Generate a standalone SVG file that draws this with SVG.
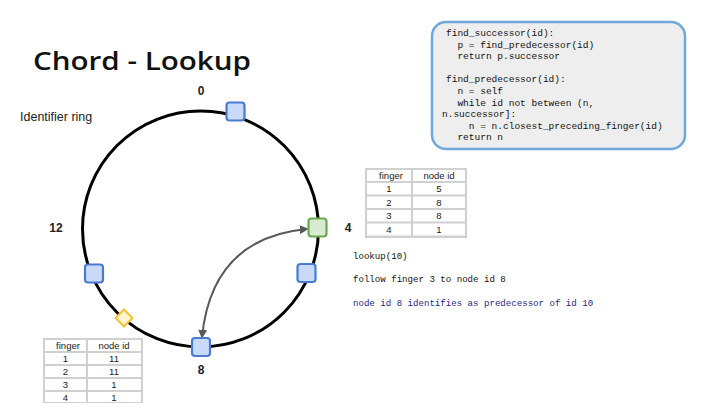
<svg xmlns="http://www.w3.org/2000/svg" width="720" height="405" viewBox="0 0 720 405">
<style>
.num{font-family:"Liberation Sans",Arial,sans-serif;font-size:12px;font-weight:bold;fill:#222;text-anchor:middle}
.code{font-family:"Liberation Mono","DejaVu Sans Mono",monospace;font-size:9.5px;fill:#111;white-space:pre}
.msg{font-family:"Liberation Mono","DejaVu Sans Mono",monospace;font-size:9.1px;fill:#111}
.tb{font-family:"Liberation Sans",Arial,sans-serif;font-size:9.5px;fill:#222;text-anchor:middle}
.cell{fill:#ffffff}
.tbg{fill:#d0d0d0}
.bn{fill:#c9daf8;stroke:#4a7bd0;stroke-width:2.2}
.gn{fill:#d9ead3;stroke:#6aa84f;stroke-width:2.2}
.yn{fill:#fff2cc;stroke:#f1c232;stroke-width:2}
</style>
<defs>
<marker id="ah" viewBox="0 0 10 10" refX="8" refY="5" markerWidth="4.5" markerHeight="4.5" orient="auto-start-reverse" markerUnits="strokeWidth">
<path d="M0,0 L10,5 L0,10 z" fill="#595959"/>
</marker>
<clipPath id="c1"><rect x="367" y="170" width="44" height="11"/></clipPath>
<clipPath id="c2"><rect x="45" y="340" width="41" height="11"/></clipPath>
</defs>
<rect width="720" height="405" fill="#ffffff"/>

<text x="33" y="70" font-family="'Open Sans','Liberation Sans',sans-serif" font-size="26" font-weight="600" fill="#111" textLength="218" lengthAdjust="spacingAndGlyphs">Chord - Lookup</text>
<text x="20" y="121" font-family="'Liberation Sans',Arial,sans-serif" font-size="12.5" fill="#222">Identifier ring</text>

<g id="ring">
<circle cx="200.5" cy="229" r="118" fill="none" stroke="#000" stroke-width="3"/>
</g>

<g id="labels">
<text class="num" x="201" y="95">0</text>
<text class="num" x="348" y="232">4</text>
<text class="num" x="201" y="374">8</text>
<text class="num" x="56" y="232">12</text>
</g>

<g id="connectors">
<path d="M202,337 Q212,238 307,229" fill="none" stroke="#595959" stroke-width="2" marker-start="url(#ah)" marker-end="url(#ah)"/>
</g>

<g id="node0"><rect class="bn" x="226.5" y="102.5" width="18" height="18" rx="3"/></g>
<g id="node4"><rect class="gn" x="308.5" y="218.5" width="18" height="18" rx="3"/></g>
<g id="node5"><rect class="bn" x="297.5" y="264" width="18" height="18" rx="3"/></g>
<g id="node8"><rect class="bn" x="192" y="338" width="18" height="18" rx="3"/></g>
<g id="node11"><rect class="bn" x="85" y="264.5" width="18" height="18" rx="3"/></g>
<g id="node10"><rect class="yn" x="118" y="312" width="12" height="12" transform="rotate(45 124 318)"/></g>

<g id="codebox">
<rect x="432" y="22" width="253" height="127" rx="14" fill="#eeeeee" stroke="#6fa8dc" stroke-width="2.5"/>
<text class="code" x="446" y="36">find_successor(id):</text>
<text class="code" x="446" y="47.6">  p = find_predecessor(id)</text>
<text class="code" x="446" y="59.2">  return p.successor</text>
<text class="code" x="446" y="82.4">find_predecessor(id):</text>
<text class="code" x="446" y="94">  n = self</text>
<text class="code" x="446" y="105.6">  while id not between (n,</text>
<text class="code" x="442" y="117.2">n.successor]:</text>
<text class="code" x="446" y="128.8">    n = n.closest_preceding_finger(id)</text>
<text class="code" x="446" y="140.4">  return n</text>
</g>

<g id="table4">
<rect class="tbg" x="365" y="168" width="102" height="70"/>
<rect class="cell" x="367" y="170" width="44" height="11"/><rect class="cell" x="413" y="170" width="52" height="11"/>
<rect class="cell" x="367" y="183" width="44" height="11.5"/><rect class="cell" x="413" y="183" width="52" height="11.5"/>
<rect class="cell" x="367" y="196.5" width="44" height="11.5"/><rect class="cell" x="413" y="196.5" width="52" height="11.5"/>
<rect class="cell" x="367" y="210" width="44" height="11.5"/><rect class="cell" x="413" y="210" width="52" height="11.5"/>
<rect class="cell" x="367" y="223.5" width="44" height="12"/><rect class="cell" x="413" y="223.5" width="52" height="12"/>
<text class="tb" x="391" y="179" clip-path="url(#c1)">finger</text><text class="tb" x="439" y="179">node id</text>
<text class="tb" x="389" y="192">1</text><text class="tb" x="439" y="192">5</text>
<text class="tb" x="389" y="205.5">2</text><text class="tb" x="439" y="205.5">8</text>
<text class="tb" x="389" y="219">3</text><text class="tb" x="439" y="219">8</text>
<text class="tb" x="389" y="232.5">4</text><text class="tb" x="439" y="232.5">1</text>
</g>

<g id="table8">
<rect class="tbg" x="43" y="338" width="100" height="65"/>
<rect class="cell" x="45" y="340" width="41" height="11"/><rect class="cell" x="88" y="340" width="53" height="11"/>
<rect class="cell" x="45" y="353" width="41" height="11"/><rect class="cell" x="88" y="353" width="53" height="11"/>
<rect class="cell" x="45" y="366" width="41" height="11"/><rect class="cell" x="88" y="366" width="53" height="11"/>
<rect class="cell" x="45" y="379" width="41" height="11"/><rect class="cell" x="88" y="379" width="53" height="11"/>
<rect class="cell" x="45" y="392" width="41" height="10"/><rect class="cell" x="88" y="392" width="53" height="10"/>
<text class="tb" x="68" y="349" clip-path="url(#c2)">finger</text><text class="tb" x="114" y="349">node id</text>
<text class="tb" x="65.5" y="362">1</text><text class="tb" x="114" y="362">11</text>
<text class="tb" x="65.5" y="375">2</text><text class="tb" x="114" y="375">11</text>
<text class="tb" x="65.5" y="388">3</text><text class="tb" x="114" y="388">1</text>
<text class="tb" x="65.5" y="400.5">4</text><text class="tb" x="114" y="400.5">1</text>
</g>

<g id="messages">
<text class="msg" x="353" y="259">lookup(10)</text>
<text class="msg" x="353" y="282">follow finger 3 to node id 8</text>
<text class="msg" x="353" y="306" style="fill:#1f1f8a">node id 8 identifies as predecessor of id 10</text>
</g>
</svg>
